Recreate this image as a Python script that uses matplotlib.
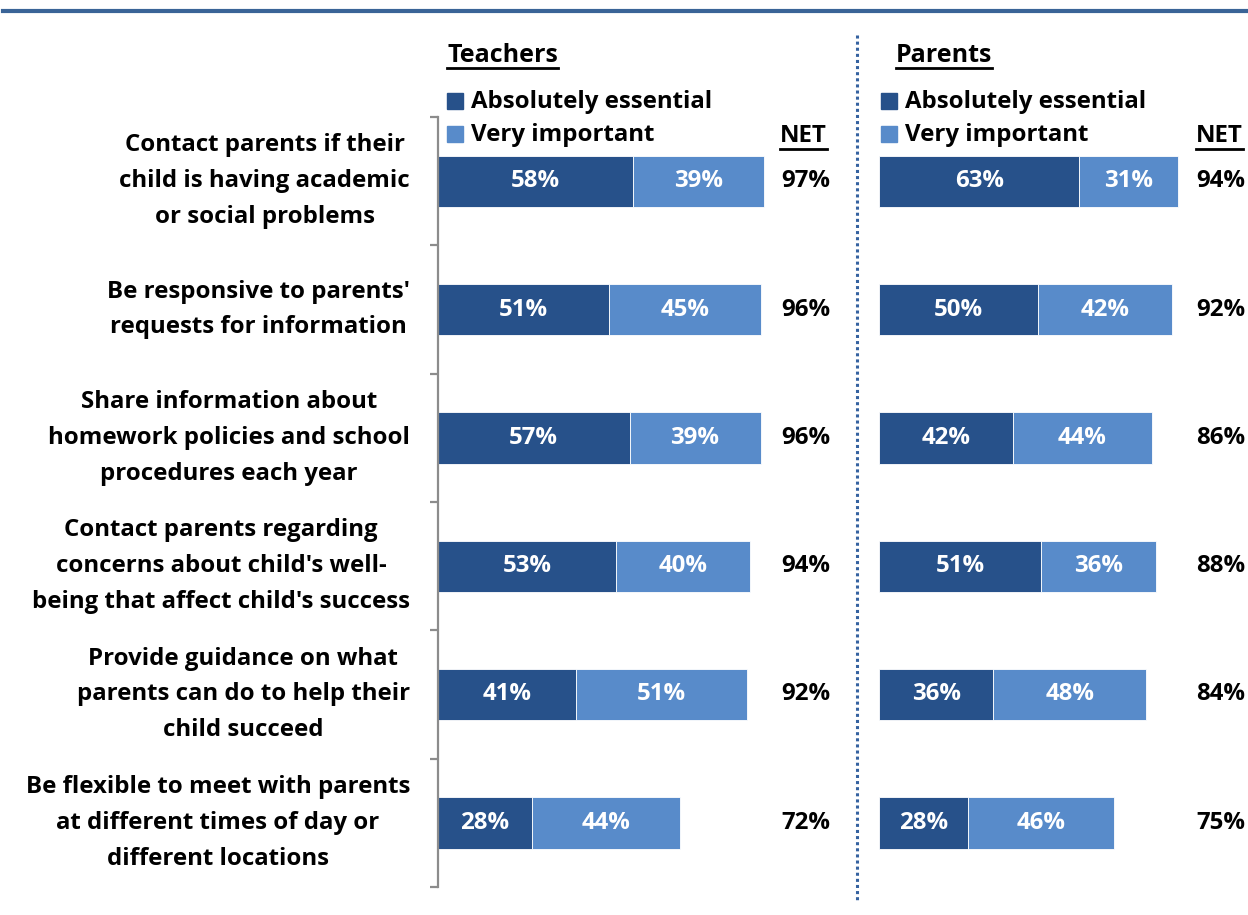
import matplotlib
matplotlib.use("Agg")
import matplotlib.pyplot as plt
from matplotlib.lines import Line2D
from matplotlib.patches import Rectangle

plt.rcParams['font.family'] = ['Open Sans', 'DejaVu Sans']
plt.rcParams['font.weight'] = 'bold'

categories = [
    "Contact parents if their\nchild is having academic\nor social problems",
    "Be responsive to parents'\nrequests for information",
    "Share information about\nhomework policies and school\nprocedures each year",
    "Contact parents regarding\nconcerns about child's well-\nbeing that affect child's success",
    "Provide guidance on what\nparents can do to help their\nchild succeed",
    "Be flexible to meet with parents\nat different times of day or\ndifferent locations",
]
teach_abs = [58, 51, 57, 53, 41, 28]
teach_very = [39, 45, 39, 40, 51, 44]
teach_net = [97, 96, 96, 94, 92, 72]
par_abs = [63, 50, 42, 51, 36, 28]
par_very = [31, 42, 44, 36, 48, 46]
par_net = [94, 92, 86, 88, 84, 75]
series_names = ["Absolutely essential", "Very important"]
panel_titles = ["Teachers", "Parents"]

DARK = "#27518A"
LIGHT = "#588BCA"
W, H = 1248, 915
fig = plt.figure(figsize=(W / 100, H / 100), dpi=100)
FS = 17.3


def fx(px):
    return px / W


def fy(py):
    return 1 - py / H


def add_axes_px(left, top, width, height):
    return fig.add_axes([fx(left), fy(top + height), width / W, height / H])


def underlined(x, y, s, size=FS):
    t = fig.text(fx(x), fy(y), s, fontsize=size, fontweight='bold', va='center', ha='left')
    fig.canvas.draw()
    bb = t.get_window_extent()
    yline = bb.y0 - 0.5
    fig.add_artist(Line2D([bb.x0 / W, bb.x1 / W], [yline / H, yline / H],
                          color='black', lw=2.0, transform=fig.transFigure))
    return t


def panel(left, width, px_per_pct, abs_vals, very_vals, net_vals, net_x, show_spine):
    ax = add_axes_px(left, 117, width, 770)
    n = len(abs_vals)
    y = list(range(n))
    ax.barh(y, abs_vals, height=0.40, color=DARK, edgecolor='white', linewidth=0.6)
    ax.barh(y, very_vals, left=abs_vals, height=0.40, color=LIGHT, edgecolor='white', linewidth=0.6)
    ax.set_xlim(0, width / px_per_pct)
    ax.set_ylim(n - 0.5, -0.5)
    for i in range(n):
        ax.text(abs_vals[i] / 2, i, f"{abs_vals[i]}%", color='white', fontsize=FS,
                fontweight='bold', ha='center', va='center')
        ax.text(abs_vals[i] + very_vals[i] / 2, i, f"{very_vals[i]}%", color='white',
                fontsize=FS, fontweight='bold', ha='center', va='center')
        ax.text(net_x, i, f"{net_vals[i]}%", color='black', fontsize=FS,
                fontweight='bold', ha='center', va='center', clip_on=False)
    for s in ['top', 'right', 'bottom']:
        ax.spines[s].set_visible(False)
    ax.xaxis.set_visible(False)
    if show_spine:
        ax.spines['left'].set_color('#8C8C8C')
        ax.spines['left'].set_linewidth(1.6)
        ax.set_yticks([k - 0.5 for k in range(n + 1)])
        ax.set_yticklabels([])
        ax.tick_params(axis='y', length=6, width=1.6, color='#8C8C8C', direction='out')
    else:
        ax.spines['left'].set_visible(False)
        ax.set_yticks([])
    ax.patch.set_alpha(0)
    return ax


axT = panel(438, 330, 3.36, teach_abs, teach_very, teach_net, (806 - 438) / 3.36, True)
axP = panel(879, 300, 3.18, par_abs, par_very, par_net, (1221 - 879) / 3.18, False)

# category labels beside the teachers axis
for i, c in enumerate(categories):
    axT.text(-28 / 3.36, i, c, ha='right', va='center', multialignment='center',
             fontsize=FS, fontweight='bold', linespacing=1.66, clip_on=False)

# panel headings and NET headers
underlined(447, 55, panel_titles[0], FS + 0.7)
underlined(896, 55, panel_titles[1], FS + 0.7)
underlined(780, 136, "NET")
underlined(1196, 136, "NET")

# legends
for lx in (447, 881):
    for k, (name, col) in enumerate(zip(series_names, [DARK, LIGHT])):
        yy = 102 + 33 * k
        fig.add_artist(Rectangle((fx(lx), fy(yy + 7)), 16 / W, 16 / H, color=col,
                                 transform=fig.transFigure))
        fig.text(fx(lx + 24), fy(yy), name, fontsize=FS, fontweight='bold',
                 va='center', ha='left')

# header rule and panel divider
fig.add_artist(Line2D([fx(3), fx(1248)], [fy(10.5), fy(10.5)], color='#3A6497',
                      lw=3.0, transform=fig.transFigure))
fig.add_artist(Line2D([fx(857), fx(857)], [fy(35), fy(900)], color='#3562A0',
                      lw=2.2, linestyle=(0, (1, 1)), transform=fig.transFigure))

fig.savefig("out.png", dpi=100)
